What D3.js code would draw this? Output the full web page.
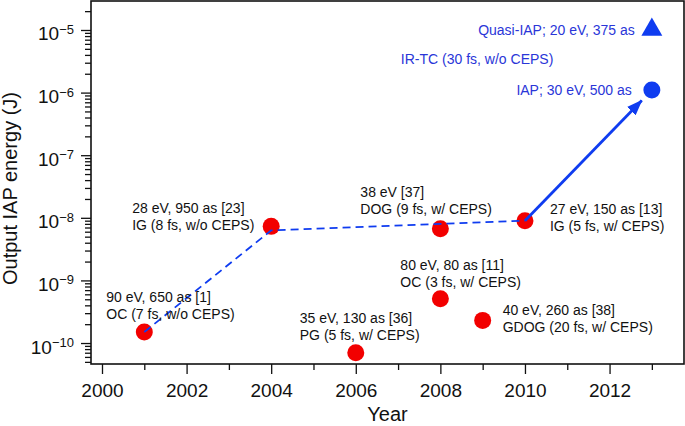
<!DOCTYPE html>
<html>
<head>
<meta charset="utf-8">
<script src="https://cdn.jsdelivr.net/npm/d3@7"></script>
<style>
    body { margin: 0; background: #fff; }
    svg { display: block; font-family: "Liberation Sans", Arial, Helvetica, sans-serif; }
</style>
</head>
<body>
<div id="chart"></div>
<script>
// red points: previous IAP results
const years = [2001, 2004, 2006, 2008, 2008, 2009, 2010];
const energies = [1.5e-10, 7.3e-9, 7e-11, 6.7e-9, 5.1e-10, 2.3e-10, 9e-9];
const labelLine1 = ["90 eV, 650 as [1]", "28 eV, 950 as [23]", "35 eV, 130 as [36]",
    "38 eV [37]", "80 eV, 80 as [11]", "40 eV, 260 as [38]", "27 eV, 150 as [13]"];
const labelLine2 = ["OC (7 fs, w/o CEPS)", "IG (8 fs, w/o CEPS)", "PG (5 fs, w/ CEPS)",
    "DOG (9 fs, w/ CEPS)", "OC (3 fs, w/ CEPS)", "GDOG (20 fs, w/ CEPS)", "IG (5 fs, w/ CEPS)"];

// blue points: this work
const iapYear = 2013;
const iapEnergy = 1.1e-6;
const quasiYear = 2013;
const quasiEnergy = 1.05e-5;
const iapLabel = "IAP; 30 eV, 500 as";
const quasiLabel = "Quasi-IAP; 20 eV, 375 as";
const irtcLabel = "IR-TC (30 fs, w/o CEPS)";

// dashed trend
const trendYears = [2001, 2004, 2010];
const trendEnergies = [1.5e-10, 6.3e-9, 9e-9];

const xTicksMajor = [2000, 2002, 2004, 2006, 2008, 2010, 2012];
const xTicksMinor = [2001, 2003, 2005, 2007, 2009, 2011, 2013];
const yDecades = [-10, -9, -8, -7, -6, -5];

// label placement relative to each red point (px)
const labelDx = [-38, -139, -56, -80, -40, 20, 25];
const labelDy = [-30, -13, -30, -32, -29, -5, -7];

const W = 685, H = 426;
const RED = "#f20000", BLUE = "#0f3cf0", BLUE_TXT = "#2a36d8";
const pLeft = 91, pRight = 684, pTop = 1, pBottom = 364;

const x = d3.scaleLinear().domain([1999.74, 2013.76]).range([pLeft, pRight]);
const y = d3.scaleLog().domain([Math.pow(10, -10.335), Math.pow(10, -4.537)]).range([pBottom, pTop]);

const svg = d3.select("#chart").append("svg")
    .attr("width", W).attr("height", H);

// axes
const xMajor = svg.append("g").attr("transform", `translate(0,${pBottom})`)
    .call(d3.axisBottom(x).tickValues(xTicksMajor).tickFormat(d3.format("d"))
        .tickSize(10).tickSizeOuter(0));
svg.append("g").attr("transform", `translate(0,${pBottom})`)
    .call(d3.axisBottom(x).tickValues(xTicksMinor).tickFormat("")
        .tickSize(6).tickSizeOuter(0));
xMajor.selectAll("text")
    .attr("y", 33).attr("dy", null)
    .style("font-size", "19px").attr("fill", "#111");

const yMinor = [];
for (let n = -11; n <= -5; n++) {
    for (let k = 2; k <= 9; k++) {
        const v = k * Math.pow(10, n);
        if (v >= y.domain()[0] && v <= y.domain()[1]) yMinor.push(v);
    }
}
const yMajorVals = yDecades.map(n => Math.pow(10, n));
svg.append("g").attr("transform", `translate(${pLeft},0)`)
    .call(d3.axisLeft(y).tickValues(yMajorVals).tickFormat("").tickSize(10).tickSizeOuter(0));
svg.append("g").attr("transform", `translate(${pLeft},0)`)
    .call(d3.axisLeft(y).tickValues(yMinor).tickFormat("").tickSize(6).tickSizeOuter(0));

svg.selectAll(".tick line").attr("stroke", "#111").attr("stroke-width", 1.3);
svg.selectAll(".domain").remove();

const yLab = svg.append("g").selectAll("text").data(yDecades).join("text")
    .attr("x", 74)
    .attr("y", d => y(Math.pow(10, d)) + 10.5)
    .attr("text-anchor", "end")
    .attr("fill", "#111");
yLab.append("tspan").style("font-size", "19px").text("10");
yLab.append("tspan").style("font-size", "13px").attr("dy", -6.5).text(d => "\u2212" + Math.abs(d));

// frame
svg.append("rect")
    .attr("x", pLeft).attr("y", pTop)
    .attr("width", pRight - pLeft).attr("height", pBottom - pTop)
    .attr("fill", "none").attr("stroke", "#111").attr("stroke-width", 1.6);

// axis titles
svg.append("text")
    .attr("x", (pLeft + pRight) / 2).attr("y", 421)
    .attr("text-anchor", "middle")
    .style("font-size", "20px").attr("fill", "#111")
    .text("Year");
svg.append("text")
    .attr("transform", `translate(17,${(pTop + pBottom) / 2 + 6}) rotate(-90)`)
    .attr("text-anchor", "middle")
    .style("font-size", "20px").attr("fill", "#111")
    .text("Output IAP energy (J)");

// red points
const pts = years.map((yr, i) => ({year: yr, e: energies[i], i: i}));
svg.append("g").selectAll("circle").data(pts).join("circle")
    .attr("cx", d => x(d.year))
    .attr("cy", d => y(d.e))
    .attr("r", 8.5)
    .attr("fill", RED);

// dashed trend
const trend = trendYears.map((yr, i) => [x(yr), y(trendEnergies[i])]);
svg.append("path")
    .attr("d", d3.line()(trend))
    .attr("fill", "none")
    .attr("stroke", BLUE)
    .attr("stroke-width", 1.8)
    .attr("stroke-dasharray", "8,5");

// arrow from last red point to IAP point
svg.append("defs").append("marker")
    .attr("id", "arrow")
    .attr("viewBox", "0 0 16 12")
    .attr("refX", 15).attr("refY", 6)
    .attr("markerWidth", 16).attr("markerHeight", 12)
    .attr("markerUnits", "userSpaceOnUse")
    .attr("orient", "auto")
    .append("path")
    .attr("d", "M0,0 L16,6 L0,12 Z")
    .attr("fill", BLUE);

const x0 = x(years[6]), y0 = y(energies[6]);
const x1 = x(iapYear), y1 = y(iapEnergy);
const len = Math.hypot(x1 - x0, y1 - y0);
const shrink = 14.5;
svg.append("line")
    .attr("x1", x0).attr("y1", y0)
    .attr("x2", x1 - (x1 - x0) * shrink / len)
    .attr("y2", y1 - (y1 - y0) * shrink / len)
    .attr("stroke", BLUE)
    .attr("stroke-width", 2.8)
    .attr("marker-end", "url(#arrow)");

// blue points
svg.append("circle")
    .attr("cx", x1).attr("cy", y1).attr("r", 8.5)
    .attr("fill", BLUE);
svg.append("path")
    .attr("d", d3.symbol().type(d3.symbolTriangle).size(190)())
    .attr("transform", `translate(${x(quasiYear)},${y(quasiEnergy) + 1})`)
    .attr("fill", BLUE);

// labels
const lab = svg.append("g").style("font-size", "14px").attr("fill", "#111")
    .selectAll("text").data(pts).join("text")
    .attr("x", d => x(d.year) + labelDx[d.i])
    .attr("y", d => y(d.e) + labelDy[d.i]);
lab.append("tspan").text(d => labelLine1[d.i]);
lab.append("tspan")
    .attr("x", d => x(d.year) + labelDx[d.i])
    .attr("dy", 17)
    .text(d => labelLine2[d.i]);

const blueText = svg.append("g").style("font-size", "14px").attr("fill", BLUE_TXT);
blueText.append("text")
    .attr("x", x(quasiYear) - 17).attr("y", y(quasiEnergy) + 6)
    .attr("text-anchor", "end")
    .text(quasiLabel);
blueText.append("text")
    .attr("x", x1 - 20).attr("y", y1 + 5)
    .attr("text-anchor", "end")
    .text(iapLabel);
blueText.append("text")
    .attr("x", x1 - 251).attr("y", y1 - 26)
    .text(irtcLabel);
</script>
</body>
</html>
